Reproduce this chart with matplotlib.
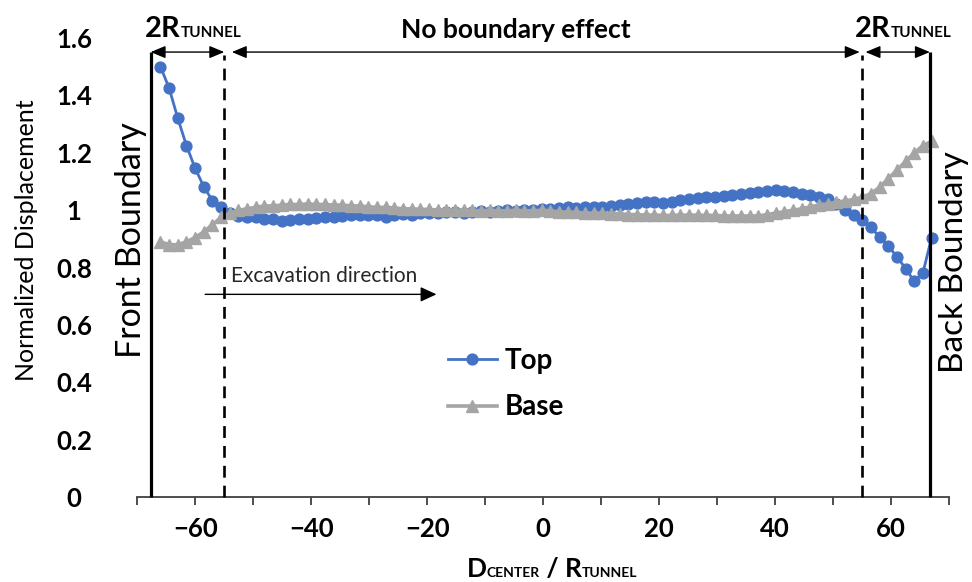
import numpy as np
import matplotlib
matplotlib.use('Agg')
import matplotlib.pyplot as plt

plt.rcParams['font.family'] = ['Lato', 'DejaVu Sans']
plt.rcParams['lines.scale_dashes'] = False

# ---------------- data ----------------
# sample positions along the tunnel (D_center / R_tunnel), evenly spaced
distance = np.linspace(-66.0, 67.0, 90)

top = [1.50, 1.425, 1.32, 1.225, 1.146, 1.082, 1.033, 1.013, 0.99, 0.98,
       0.975, 0.975, 0.97, 0.968, 0.963, 0.965, 0.97, 0.968, 0.972, 0.975,
       0.978, 0.98, 0.982, 0.985, 0.983, 0.985, 0.975, 0.985, 0.988, 0.985,
       0.99, 0.992, 0.99, 0.993, 0.995, 0.99, 0.995, 0.997, 0.993, 0.998,
       1.0, 0.998, 1.002, 1.0, 1.003, 1.005, 1.008, 1.01, 1.008, 1.012,
       1.01, 1.012, 1.015, 1.018, 1.02, 1.025, 1.03, 1.028, 1.025, 1.03,
       1.036, 1.04, 1.042, 1.045, 1.047, 1.05, 1.053, 1.056, 1.059, 1.062,
       1.066, 1.07, 1.068, 1.065, 1.058, 1.052, 1.045, 1.038, 1.02, 1.002,
       0.985, 0.966, 0.94, 0.907, 0.875, 0.838, 0.797, 0.752, 0.782, 0.905]

base = [0.89, 0.88, 0.88, 0.89, 0.905, 0.925, 0.95, 0.975, 0.99, 1.0,
        1.005, 1.01, 1.015, 1.015, 1.018, 1.02, 1.02, 1.022, 1.02, 1.02,
        1.018, 1.018, 1.015, 1.015, 1.012, 1.01, 1.01, 1.008, 1.005, 1.005,
        1.003, 1.003, 1.0, 1.002, 1.0, 1.0, 1.0, 0.998, 1.0, 0.998,
        0.998, 1.0, 0.998, 0.998, 1.0, 0.998, 0.995, 0.993, 0.993, 0.99,
        0.99, 0.99, 0.988, 0.988, 0.985, 0.985, 0.983, 0.983, 0.982, 0.982,
        0.983, 0.983, 0.983, 0.982, 0.982, 0.98, 0.98, 0.98, 0.98, 0.98,
        0.985, 0.99, 0.995, 1.0, 1.005, 1.012, 1.018, 1.022, 1.028, 1.032,
        1.038, 1.045, 1.058, 1.08, 1.11, 1.14, 1.17, 1.2, 1.225, 1.24]

series_labels = ['Top', 'Base']

x_ticks = [-70, -60, -50, -40, -30, -20, -10, 0, 10, 20, 30, 40, 50, 60, 70]
x_tick_labels = ['', '\u221260', '', '\u221240', '', '\u221220', '', '0',
                 '', '20', '', '40', '', '60', '']
y_ticks = [0, 0.2, 0.4, 0.6, 0.8, 1.0, 1.2, 1.4, 1.6]
y_tick_labels = ['0', '0.2', '0.4', '0.6', '0.8', '1', '1.2', '1.4', '1.6']

# annotation positions (x in D/R units)
front_boundary = -67.7
back_boundary = 66.7
zone_left = -55.0
zone_right = 55.0

# ---------------- figure ----------------
W, H = 972, 582
fig = plt.figure(figsize=(W / 100, H / 100), dpi=100)
ax_left, ax_right, ax_bottom, ax_top = 137.3, 949.0, 497.3, 38.0
ax = fig.add_axes([ax_left / W, 1 - ax_bottom / H,
                   (ax_right - ax_left) / W, (ax_bottom - ax_top) / H])
ax.set_xlim(-70, 70)
ax.set_ylim(0, 1.6)

BLUE = '#4472C4'
GRAY = '#A5A5A5'
l_top, = ax.plot(distance, top, color=BLUE, lw=2.0, marker='o', ms=7.8,
                 label=series_labels[0], zorder=3)
l_base, = ax.plot(distance, base, color=GRAY, lw=2.6, marker='^', ms=9.2,
                  label=series_labels[1], zorder=4)

for s in ['left', 'top', 'right']:
    ax.spines[s].set_visible(False)
ax.spines['bottom'].set_color('#404040')
ax.spines['bottom'].set_linewidth(1.3)

ax.set_xticks(x_ticks)
ax.set_xticklabels(x_tick_labels, fontweight='bold')
ax.tick_params(axis='x', direction='out', length=6, width=1.3,
               color='#404040', labelsize=18.5, pad=8)
ax.set_yticks(y_ticks)
ax.set_yticklabels(y_tick_labels, fontweight='bold')
ax.tick_params(axis='y', length=0, labelsize=18.5, pad=(ax_left - 74) * 0.72)
for lbl in ax.get_yticklabels():
    lbl.set_ha('center')

# boundaries
y_arrow = 1.551
for xb in (front_boundary, back_boundary):
    ax.plot([xb, xb], [0, y_arrow], color='black', lw=2.3,
            solid_capstyle='butt', clip_on=False, zorder=5)
for xd in (zone_left, zone_right):
    ax.plot([xd, xd], [0, 1.541], color='black', lw=1.9,
            ls=(0, (8.5, 5.8)), clip_on=False, zorder=5)


def darrow(x1, x2, y, style='<|-|>'):
    ax.annotate('', xy=(x2, y), xytext=(x1, y),
                arrowprops=dict(arrowstyle=style + ',head_length=0.6,head_width=0.25',
                                color='black', lw=1.0, shrinkA=0, shrinkB=0,
                                mutation_scale=15),
                annotation_clip=False)


darrow(front_boundary, zone_left, y_arrow)
darrow(-53.7, 54.6, y_arrow)
darrow(55.6, back_boundary, y_arrow)

# excavation direction
ax.annotate('', xy=(-18.4, 0.707), xytext=(-58.3, 0.707),
            arrowprops=dict(arrowstyle='-|>,head_length=0.65,head_width=0.3',
                            color='black', lw=1.0, shrinkA=0, shrinkB=0,
                            mutation_scale=15))
ax.text(-53.9, 0.751, 'Excavation direction', fontsize=15, color='#262626',
        va='baseline', ha='left')

# legend
ax.legend(handles=[l_top, l_base], loc='center left',
          bbox_to_anchor=(448 / W, 1 - 384 / H), bbox_transform=fig.transFigure,
          frameon=False, prop={'weight': 'bold', 'size': 20},
          handlelength=1.75, handletextpad=0.3, labelspacing=0.75,
          borderpad=0, borderaxespad=0, numpoints=1)

# rotated labels
fig.text(27 / W, 1 - 240 / H, 'Normalized Displacement', rotation=90,
         ha='center', va='center', fontsize=18)
fig.text(131 / W, 1 - 240 / H, 'Front Boundary', rotation=90,
         ha='center', va='center', fontsize=24.5)
fig.text(954 / W, 1 - 262 / H, 'Back Boundary', rotation=90,
         ha='center', va='center', fontsize=24)

# rich (small-caps style) texts
renderer = fig.canvas.get_renderer()


def rich(pieces, x, y, ha='left'):
    texts = []
    for s, size in pieces:
        t = fig.text(0, 1 - y / H, s, fontsize=size, fontweight='bold',
                     va='baseline', ha='left')
        texts.append(t)
    widths = [t.get_window_extent(renderer).width for t in texts]
    x0 = x - sum(widths) / 2 if ha == 'center' else x
    for t, w in zip(texts, widths):
        t.set_x(x0 / W)
        x0 += w


rich([('2R', 21), ('TUNNEL', 11)], 145.0, 37.3)
rich([('2R', 21), ('TUNNEL', 11)], 855.0, 37.3)
rich([('No boundary effect', 19)], 516, 38.0, ha='center')
rich([('D', 19), ('CENTER', 10), (' / R', 19), ('TUNNEL', 10)], 552, 577, ha='center')

fig.savefig('out.png', dpi=100)
